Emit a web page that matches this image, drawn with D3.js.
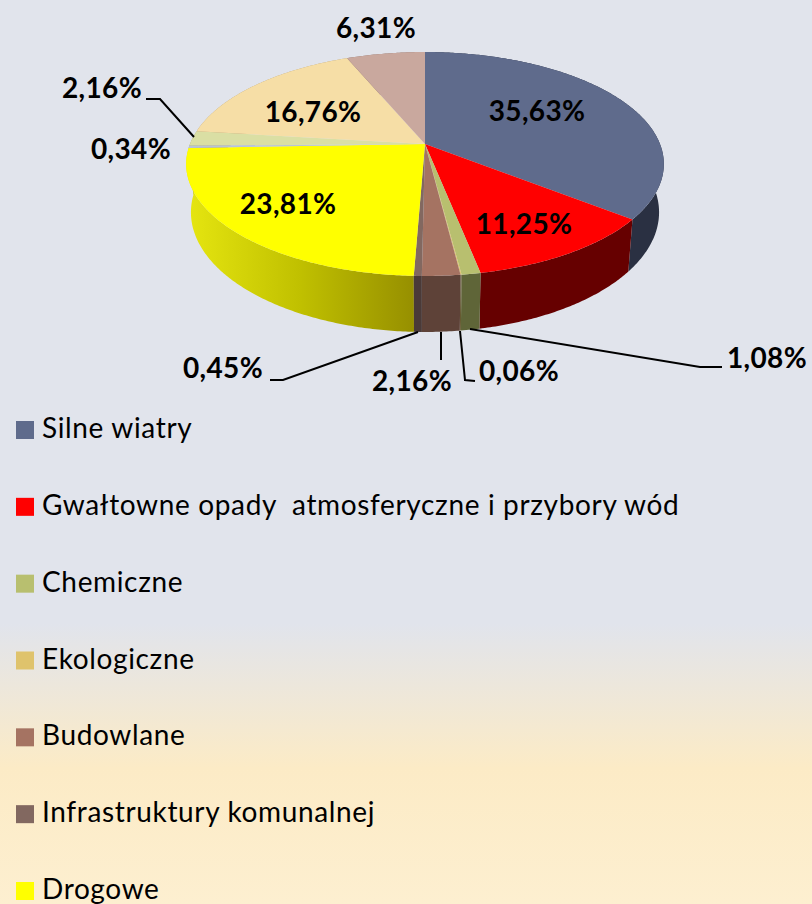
<!DOCTYPE html>
<html><head><meta charset="utf-8">
<script src="https://cdn.jsdelivr.net/npm/d3@7/dist/d3.min.js"></script>
<style>html,body{margin:0;padding:0;overflow:hidden}svg{display:block}text{font-family:Lato,"Open Sans",sans-serif;fill:#000}</style>
</head><body><div id="c"></div>
<script>
const categories=["Silne wiatry","Gwałtowne opady  atmosferyczne i przybory wód","Chemiczne","Ekologiczne","Budowlane","Infrastruktury komunalnej","Drogowe","Inne A","Inne B","Inne C","Inne D"];
const values=[35.63,11.25,1.08,0.06,2.16,0.45,23.81,0.34,2.16,16.76,6.31];
const valueLabels=["35,63%","11,25%","1,08%","0,06%","2,16%","0,45%","23,81%","0,34%","2,16%","16,76%","6,31%"];
const legendNames=categories.slice(0,7);
const legendColors=["#5f6b8c","#ff0000","#b8bf6f","#dfc36c","#a57362","#826860","#ffff00"];
const topColors=["#5f6b8c","#ff0000","#b8bf6f","#dfc36c","#a57362","#826860","#ffff00","#b8c4d8","#dadfa4","#f6dea6","#c9a89e"];
const wallColors=["#2a3042","#660000","#5f6538","#665a30","#5e4238","#4a3a38","url(#yw)","#8a94a0","#9a9f70","#b09a70","#8a7068"];
const labelLayout=[[537,110],[524,223],[767,357],[519,370],[412,380],[223,367],[288,203],[131,148],[102,87],[313,111],[376,27]];
const leaders=[null,null,[[470,329],[700,367],[722,367]],[[460,331],[465,380],[475,381]],[[441,332],[441,360]],[[418,332],[283,380],[270,380]],null,null,[[194,137],[160,99],[146,99]],null,null];

const W=812,H=904,cx=425,cy=144,R=235,a=108.4,k=-0.1786,shrink=0.98;
const wallY=d3.scaleLinear().domain([218,276]).range([270,332]);
const svg=d3.select("#c").append("svg").attr("width",W).attr("height",H);
const defs=svg.append("defs");
const bg=defs.append("linearGradient").attr("id","bg").attr("x1",0).attr("x2",0).attr("y1",0).attr("y2",1);
[[0,"#e1e4ec"],[0.69,"#e1e4ec"],[0.85,"#fcebc6"],[1,"#fdefd0"]].forEach(s=>bg.append("stop").attr("offset",s[0]).attr("stop-color",s[1]));
const yw=defs.append("linearGradient").attr("id","yw").attr("gradientUnits","userSpaceOnUse").attr("x1",186).attr("x2",415).attr("y1",0).attr("y2",0);
[[0,"#e6e610"],[0.5,"#c0c000"],[1,"#968f00"]].forEach(s=>yw.append("stop").attr("offset",s[0]).attr("stop-color",s[1]));
svg.append("rect").attr("width",W).attr("height",H).attr("fill","url(#bg)");

const pie=d3.pie().sort(null).startAngle(0).endAngle(2*Math.PI);
const arcs=pie(values);
function proj(t){const u=Math.sin(t),v=-Math.cos(t),w=1+k*v;return [cx+R*u/w,cy+a*v/w];}
function pts(s,e){const n=Math.max(2,Math.ceil((e-s)/0.01));return d3.range(n+1).map(i=>proj(s+(e-s)*i/n));}
const line=d3.line();
const g=svg.append("g");
const order=arcs.map((d,i)=>i).sort((p,q)=>-Math.cos((arcs[p].startAngle+arcs[p].endAngle)/2)+Math.cos((arcs[q].startAngle+arcs[q].endAngle)/2));
order.forEach(i=>{const d=arcs[i],top=pts(d.startAngle,d.endAngle);
  const bot=top.map(p=>[cx+(p[0]-cx)*shrink,wallY(p[1])]).reverse();
  g.append("path").attr("d",line(top.concat(bot))+"Z").attr("fill",wallColors[i]);});
arcs.forEach((d,i)=>{g.append("path").attr("d",line([[cx,cy]].concat(pts(d.startAngle,d.endAngle)))+"Z").attr("fill",topColors[i]);});
leaders.forEach(l=>{if(l)svg.append("path").attr("d",line(l)).attr("fill","none").attr("stroke","#000").attr("stroke-width",2);});
valueLabels.forEach((t,i)=>{svg.append("text").attr("x",labelLayout[i][0]).attr("y",labelLayout[i][1]).attr("text-anchor","middle").attr("dominant-baseline","central").attr("font-size",28).attr("letter-spacing",0.35).attr("font-weight",700).text(t);});
const ly=d3.scalePoint().domain(legendNames).range([430,891]);
legendNames.forEach((n,i)=>{
  svg.append("rect").attr("x",16).attr("y",ly(n)-9).attr("width",18).attr("height",18).attr("fill",legendColors[i]);
  svg.append("text").attr("x",42).attr("y",ly(n)-3).attr("dominant-baseline","central").attr("font-size",28).attr("letter-spacing",0.65).style("white-space","pre").text(n);
});
</script></body></html>
